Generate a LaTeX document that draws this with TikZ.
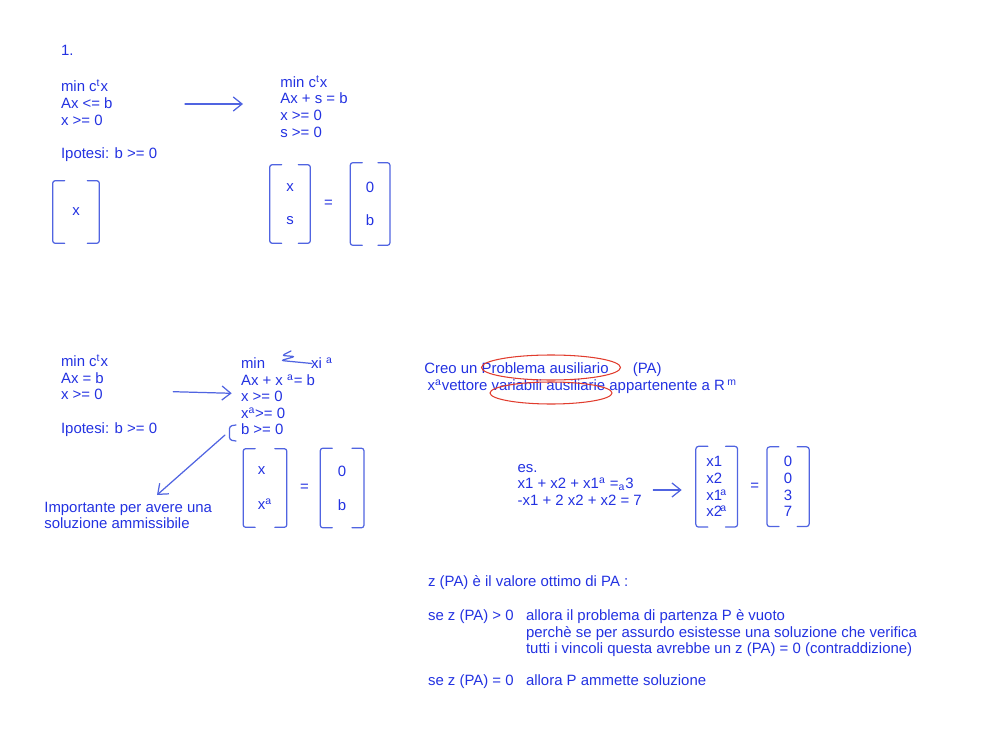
\documentclass[tikz,border=0pt]{standalone}
\usepackage{fontspec}
\setmainfont{Liberation Sans}
\usetikzlibrary{positioning,calc,arrows.meta}
\definecolor{myblue}{RGB}{35,50,225}
\definecolor{penblue}{RGB}{80,100,225}
\definecolor{penred}{RGB}{225,60,45}
\newcommand*\hooklen{2.4mm}
\newcommand*\lnstrut{\rule{0pt}{8.5pt}}
\newcommand*\vecbrackets[1]{%
  \draw[brk] ([xshift=\hooklen]#1.north west) -- (#1.north west) -- (#1.south west) -- ([xshift=\hooklen]#1.south west);
  \draw[brk] ([xshift=-\hooklen]#1.north east) -- (#1.north east) -- (#1.south east) -- ([xshift=-\hooklen]#1.south east);}
\tikzstyle{txt}=[text=myblue,inner sep=0,font=\fontsize{8.5}{9.47}\selectfont,align=left]
\tikzstyle{vec}=[txt,align=center]
\tikzstyle{pen}=[draw=penblue,line width=0.7pt,line cap=round,line join=round]
\tikzstyle{brk}=[pen,rounded corners=1.5pt]
\tikzstyle{arr}=[pen,-{Straight Barb[length=5pt,width=8pt]}]
\tikzstyle{redring}=[draw=penred,line width=0.6pt]

\begin{document}
\begin{tikzpicture}[x=0.02cm,y=-0.02cm]
      \useasboundingbox (0,0) rectangle (1000,750);
      % first problem
      \node (N) [txt,anchor=base west] at (60.7,56) {1.};
      \node (A) [txt,anchor=north west] at (60.7,76.6) {\lnstrut min c\textsuperscript{t}x\\Ax <= b\\x >= 0};
      \node (H) [txt,anchor=base west] at (60.7,158) {Ipotesi: b >= 0};
      \node (VX) [vec,minimum width=0.92cm,minimum height=1.24cm] at (76,212) {x};
      \node (B) [txt,anchor=north west] at (280,71.8) {\lnstrut min c\textsuperscript{t}x\\Ax + s = b\\x >= 0\\s >= 0};
      \node (VXS) [vec,minimum width=0.8cm,minimum height=1.56cm] at (290,204) {x\\[3.3mm]s};
      \node (EQ1) [txt,right=0.27cm of VXS] {=};
      \node (V0B) [vec,right=0.34cm of EQ1,minimum width=0.78cm,minimum height=1.64cm] {0\\[3.3mm]b};
      \coordinate (a1) at (185,104);
      \coordinate (a2) at (243,104);
      \draw[arr] (a1) -- (a2);
      % second problem
      \node (C) [txt,anchor=north west] at (60.7,351.1) {\lnstrut min c\textsuperscript{t}x\\Ax = b\\x >= 0};
      \node (H2) [txt,anchor=base west] at (60.7,433) {Ipotesi: b >= 0};
      \node (D) [txt,anchor=north west] at (240.7,353.1) {\lnstrut min\hspace{9.2mm}xi \textsuperscript{a}\\Ax + x \textsuperscript{a}= b\\x >= 0\\x\textsuperscript{a}>= 0\\b >= 0};
      \draw[brk] (291,351) -- (282,355.5) -- (295,356.5) -- (281,360.5) -- (312,363.5);
      \draw[brk] (236,425) -- (229.5,426) -- (229.5,440) -- (236,441);
      \node (I) [txt,anchor=north west] at (44,496.8) {\lnstrut Importante per avere una\\soluzione ammissibile};
      \node (VXA) [txt,minimum width=0.86cm,minimum height=1.56cm] at (265,488) {x\\[3.7mm]x\textsuperscript{a}};
      \node (EQ2) [txt,right=0.26cm of VXA] {=};
      \node (V0B2) [vec,right=0.22cm of EQ2,minimum width=0.86cm,minimum height=1.58cm] {0\\[3.45mm]b};
      \coordinate (a3) at (173.3,391.7);
      \coordinate (a4) at (231.7,393.3);
      \coordinate (a5) at (225,435);
      \coordinate (a6) at (157,495);
      \draw[arr] (a3) -- (a4);
      \draw[arr] (a5) -- (a6);
      % auxiliary problem
      \node (CR) [txt,anchor=base west] at (424,373.3) {Creo un Problema ausiliario};
      \node (PA) [txt,base right=4.7mm of CR] {(PA)};
      \node (XA) [txt,anchor=base west] at (427.3,390) {x\textsuperscript{a}vettore variabili ausiliarie appartenente a R\,\textsuperscript{m}};
      \draw[redring] (551,367.5) ellipse [x radius=1.39cm,y radius=0.25cm];
      \draw[redring] (551,393) ellipse [x radius=1.22cm,y radius=0.22cm];
      \node (E) [txt,anchor=north west] at (517.3,456.8) {\lnstrut es.\\x1 + x2 + x1\textsuperscript{a} =\textsubscript{a}3\\-x1 + 2 x2 + x2 = 7};
      \node (VEX) [txt,minimum width=0.82cm,minimum height=1.6cm] at (716.7,486.7) {x1\\x2\\x1\kern-1pt\textsuperscript{a}\\x2\kern-1pt\textsuperscript{a}};
      \node (EQ3) [txt,right=0.25cm of VEX] {=};
      \node (VEN) [vec,right=0.15cm of EQ3,minimum width=0.83cm,minimum height=1.58cm] {0\\0\\3\\7};
      \coordinate (a7) at (653.3,490);
      \coordinate (a8) at (681.7,490);
      \draw[arr] (a7) -- (a8);
      \foreach \v in {VX,VXS,V0B,VXA,V0B2,VEX,VEN} {\vecbrackets{\v}}
      % value of PA
      \node (Z1) [txt,anchor=base west] at (427.7,586.7) {z (PA) è il valore ottimo di PA :};
      \node (Z2) [txt,anchor=base west] at (427.7,620) {se z (PA) > 0};
      \node (Z3) [txt,anchor=north west] at (525.7,605.1) {\lnstrut allora il problema di partenza P è vuoto\\perchè se per assurdo esistesse una soluzione che verifica\\tutti i vincoli questa avrebbe un z (PA) = 0 (contraddizione)};
      \node (Z4) [txt,anchor=base west] at (427.7,685.7) {se z (PA) = 0};
      \node (Z5) [txt,anchor=base west] at (525.7,685.7) {allora P ammette soluzione};
    \end{tikzpicture}
\end{document}
